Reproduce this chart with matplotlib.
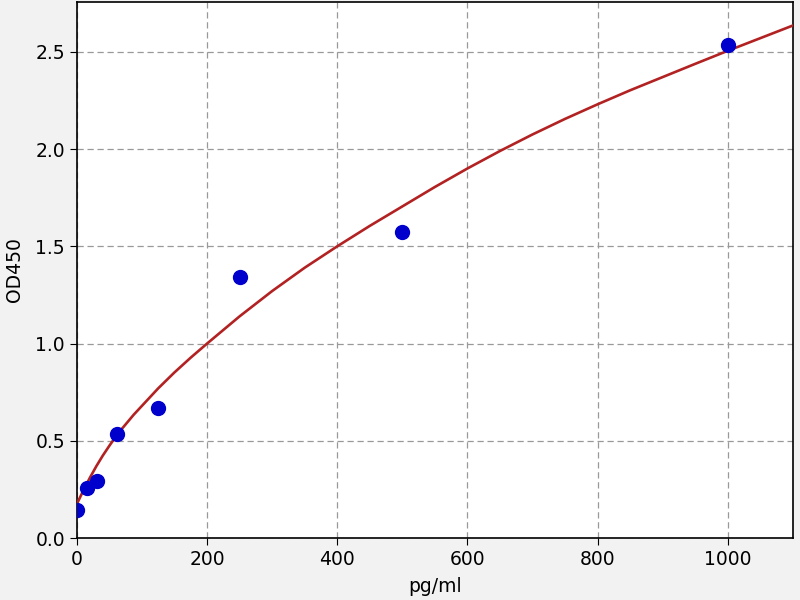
import numpy as np
import matplotlib
matplotlib.use("Agg")
import matplotlib.pyplot as plt


# STANDARD POINTS (pg/ml vs OD450)

conc = [0, 15.6, 31.25, 62.5, 125, 250, 500, 1000]
od = [0.147, 0.258, 0.292, 0.536, 0.671, 1.341, 1.573, 2.535]

# FITTED CURVE

curve_x = [0, 10, 20, 30, 40, 50, 62.5, 75, 87.5, 100, 125, 150, 175, 200,
           250, 300, 350, 400, 450, 500, 550, 600, 650, 700, 750, 800, 850,
           900, 950, 1000, 1050, 1100]
curve_y = [0.175, 0.245, 0.31, 0.37, 0.425, 0.475, 0.535, 0.585, 0.635,
           0.68, 0.77, 0.852, 0.928, 1.0, 1.14, 1.27, 1.39, 1.5, 1.605,
           1.705, 1.805, 1.9, 1.99, 2.075, 2.155, 2.23, 2.302, 2.37, 2.438,
           2.505, 2.57, 2.635]


fig = plt.figure(figsize=(8, 6), dpi=100, facecolor="#f2f2f2")
ax = fig.add_axes([0.096, 0.103, 0.895, 0.894])
ax.set_facecolor("white")

ax.plot(curve_x, curve_y, color="#b22222", linewidth=1.9, zorder=3)
ax.plot(conc, od, "o", color="#0000cc", markersize=10, zorder=4)

ax.set_xlim(0, 1100)
ax.set_ylim(0, 2.757)
ax.set_xticks(np.arange(0, 1001, 200))
ax.set_yticks(np.arange(0, 2.51, 0.5))

ax.grid(True, linestyle=(0, (5, 3)), color="#999999", linewidth=0.9)
ax.tick_params(labelsize=13.5, length=5)

ax.set_xlabel("pg/ml", fontsize=13.5, labelpad=6)
ax.set_ylabel("OD450", fontsize=13.5, labelpad=8)

for s in ax.spines.values():
    s.set_linewidth(1.2)

fig.savefig("out.png", dpi=100, facecolor=fig.get_facecolor())
